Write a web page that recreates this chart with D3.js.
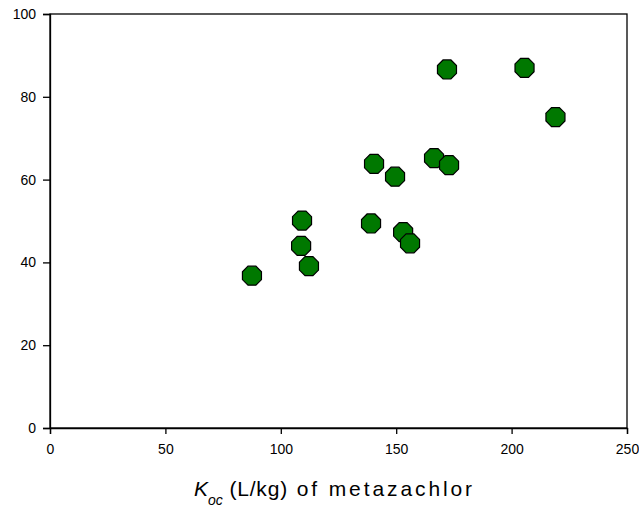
<!DOCTYPE html>
<html>
<head>
<meta charset="utf-8">
<script src="https://cdn.jsdelivr.net/npm/d3@7"></script>
<style>
  html, body { margin: 0; padding: 0; background: #fff; }
  svg { display: block; }
  text { font-family: Arial, "Liberation Sans", sans-serif; fill: #000; }
</style>
</head>
<body>
<svg id="chart" width="639" height="506"></svg>
<script>
// Koc of metazachlor (L/kg) against the response variable
const kocValues = [87.5, 109.2, 108.8, 112.2, 139.1, 140.4, 149.5, 153.0, 156.0, 166.4, 172.9, 172.0, 205.6, 219.0];
const yValues   = [36.8, 50.1, 44.0, 39.1, 49.4, 63.8, 60.7, 47.3, 44.6, 65.2, 63.5, 86.6, 87.0, 75.1];
const xTicks = [0, 50, 100, 150, 200, 250];
const yTicks = [0, 20, 40, 60, 80, 100];

const svg = d3.select("#chart");
const plot = { left: 50, right: 627, top: 14, bottom: 428 };

const x = d3.scaleLinear().domain([0, 250]).range([plot.left, plot.right]);
const y = d3.scaleLinear().domain([0, 100]).range([plot.bottom, plot.top]);

// frame
svg.append("rect")
  .attr("x", plot.left).attr("y", plot.top)
  .attr("width", plot.right - plot.left).attr("height", plot.bottom - plot.top)
  .attr("fill", "none").attr("stroke", "#000").attr("stroke-width", 1.3);

const xAxis = svg.append("g")
  .attr("transform", `translate(0,${plot.bottom})`)
  .call(d3.axisBottom(x).tickValues(xTicks).tickSizeOuter(0).tickSize(6).tickPadding(10));
const yAxis = svg.append("g")
  .attr("transform", `translate(${plot.left},0)`)
  .call(d3.axisLeft(y).tickValues(yTicks).tickSizeOuter(0).tickSize(7).tickPadding(7));

[xAxis, yAxis].forEach(g => {
  g.select(".domain").attr("stroke", "#000").attr("stroke-width", 1.3);
  g.selectAll(".tick line").attr("stroke", "#000").attr("stroke-width", 1.3);
  g.selectAll(".tick text")
    .attr("font-size", 14)
    .attr("font-family", "Arial, 'Liberation Sans', sans-serif")
    .attr("fill", "#000");
});

// octagonal markers
const r = 10.3;
const octagon = d3.range(8).map(i => {
  const a = Math.PI / 8 + i * Math.PI / 4;
  return [r * Math.cos(a), r * Math.sin(a)];
});
const pts = kocValues.map((k, i) => ({ k, v: yValues[i] }));
svg.append("g").selectAll("path")
  .data(pts)
  .join("path")
  .attr("transform", d => `translate(${x(d.k)},${y(d.v)})`)
  .attr("d", "M" + octagon.map(p => p.join(",")).join("L") + "Z")
  .attr("fill", "#007800")
  .attr("stroke", "#000")
  .attr("stroke-width", 1.2);

// x-axis title
const title = svg.append("text")
  .attr("x", 194)
  .attr("y", 496)
  .attr("text-anchor", "start")
  .attr("font-size", 21);
title.append("tspan").attr("font-style", "italic").text("K");
title.append("tspan").attr("font-style", "italic").attr("font-size", 14).attr("dy", 8.5).text("oc");
title.append("tspan").attr("dy", -8.5).attr("letter-spacing", 0.8).text(" (L/kg)");
title.append("tspan").attr("letter-spacing", 2.9).text(" of metazachlor");
</script>
</body>
</html>
